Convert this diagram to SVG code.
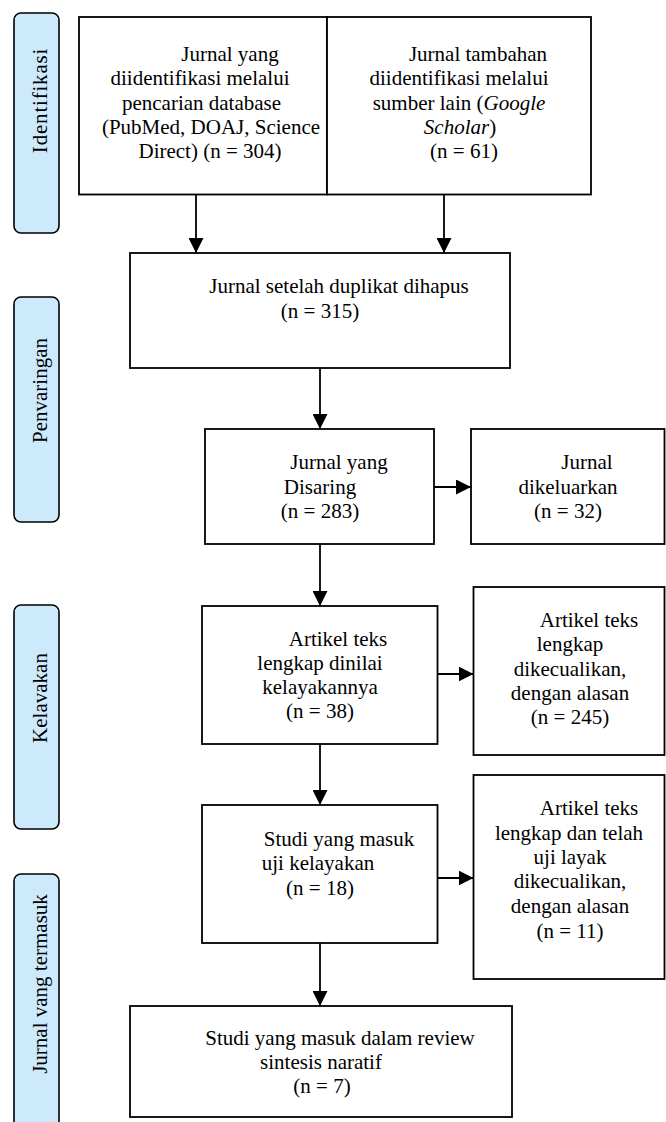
<svg xmlns="http://www.w3.org/2000/svg" width="666" height="1122" viewBox="0 0 666 1122">
<defs>
<style>
.box{fill:#ffffff;stroke:#000000;stroke-width:1.8}
.side{fill:#cdeafc;stroke:#000000;stroke-width:1.6}
.t{font-family:'Liberation Serif','Times New Roman',Times,serif;font-size:21px;fill:#000000;text-anchor:middle}
.conn{stroke:#000000;stroke-width:1.8;fill:none}
</style>
<marker id="ah" markerUnits="userSpaceOnUse" markerWidth="15" markerHeight="15" refX="15" refY="7.5" orient="auto" viewBox="0 0 15 15">
<path d="M0,0 L15,7.5 L0,15 z" fill="#000000"/>
</marker>
</defs>
<rect width="666" height="1122" fill="#ffffff"/>

<g id="side-identifikasi">
<rect class="side" x="14" y="13" width="45" height="220" rx="7"/>
<text class="t" font-family="Liberation Serif, serif" transform="translate(47,100.5) rotate(-90)" letter-spacing="0.8">Identifikasi</text>
</g>
<g id="side-penyaringan">
<rect class="side" x="14" y="297" width="45" height="225" rx="7"/>
<text class="t" font-family="Liberation Serif, serif" transform="translate(47,390.5) rotate(-90)">Penvaringan</text>
</g>
<g id="side-kelayakan">
<rect class="side" x="14" y="605" width="45" height="224" rx="7"/>
<text class="t" font-family="Liberation Serif, serif" transform="translate(47,698) rotate(-90)">Kelavakan</text>
</g>
<g id="side-termasuk">
<rect class="side" x="14" y="874" width="45" height="260" rx="7"/>
<text class="t" font-family="Liberation Serif, serif" transform="translate(47,984) rotate(-90)">Jurnal vang termasuk</text>
</g>

<g id="box-database" font-family="Liberation Serif, serif">
<rect class="box" x="79" y="17" width="248" height="177.5"/>
<text class="t" x="230" y="61">Jurnal yang</text>
<text class="t" x="200" y="85.3">diidentifikasi melalui</text>
<text class="t" x="201.5" y="110">pencarian database</text>
<text class="t" x="211" y="133.5">(PubMed, DOAJ, Science</text>
<text class="t" x="210" y="158.3">Direct) (n = 304)</text>
</g>

<g id="box-lain">
<rect class="box" x="327" y="17" width="264" height="177.5"/>
<text class="t" x="478" y="61">Jurnal tambahan</text>
<text class="t" x="459" y="85.3">diidentifikasi melalui</text>
<text class="t" x="459" y="110">sumber lain (<tspan font-style="italic">Google</tspan></text>
<text class="t" x="460" y="133.5"><tspan font-style="italic">Scholar</tspan>)</text>
<text class="t" x="464" y="158.3">(n = 61)</text>
</g>

<g id="box-duplikat">
<rect class="box" x="130" y="253" width="380" height="115"/>
<text class="t" x="339" y="293.3">Jurnal setelah duplikat dihapus</text>
<text class="t" x="320" y="318.3">(n = 315)</text>
</g>

<g id="box-disaring">
<rect class="box" x="205" y="429" width="229" height="115"/>
<text class="t" x="339" y="469.3">Jurnal yang</text>
<text class="t" x="320" y="494">Disaring</text>
<text class="t" x="320" y="518.3">(n = 283)</text>
</g>

<g id="box-dikeluarkan">
<rect class="box" x="471" y="429" width="193.5" height="115"/>
<text class="t" x="587" y="469.3">Jurnal</text>
<text class="t" x="568" y="494">dikeluarkan</text>
<text class="t" x="568" y="518.3">(n = 32)</text>
</g>

<g id="box-dinilai">
<rect class="box" x="202" y="606" width="235.5" height="138"/>
<text class="t" x="338" y="645.7">Artikel teks</text>
<text class="t" x="320" y="669.5">lengkap dinilai</text>
<text class="t" x="320" y="694">kelayakannya</text>
<text class="t" x="320" y="718.3">(n = 38)</text>
</g>

<g id="box-dikecualikan1">
<rect class="box" x="473.5" y="587" width="191" height="168"/>
<text class="t" x="589" y="626.7">Artikel teks</text>
<text class="t" x="570" y="650.7">lengkap</text>
<text class="t" x="570" y="675.7">dikecualikan,</text>
<text class="t" x="570" y="699.5">dengan alasan</text>
<text class="t" x="570" y="724">(n = 245)</text>
</g>

<g id="box-uji">
<rect class="box" x="202" y="805" width="235.5" height="138"/>
<text class="t" x="339" y="846">Studi yang masuk</text>
<text class="t" x="318" y="870">uji kelayakan</text>
<text class="t" x="320" y="895">(n = 18)</text>
</g>

<g id="box-dikecualikan2">
<rect class="box" x="473.5" y="775" width="191" height="204"/>
<text class="t" x="589" y="815">Artikel teks</text>
<text class="t" x="569" y="840">lengkap dan telah</text>
<text class="t" x="570" y="864">uji layak</text>
<text class="t" x="570" y="888.3">dikecualikan,</text>
<text class="t" x="570" y="913.3">dengan alasan</text>
<text class="t" x="570" y="938.3">(n = 11)</text>
</g>

<g id="box-review">
<rect class="box" x="130" y="1006" width="382" height="111"/>
<text class="t" x="340" y="1045">Studi yang masuk dalam review</text>
<text class="t" x="321" y="1069">sintesis naratif</text>
<text class="t" x="322" y="1093">(n = 7)</text>
</g>

<g id="connectors">
<line class="conn" x1="196" y1="194.5" x2="196" y2="253" marker-end="url(#ah)"/>
<line class="conn" x1="444" y1="194.5" x2="444" y2="253" marker-end="url(#ah)"/>
<line class="conn" x1="320" y1="368" x2="320" y2="429" marker-end="url(#ah)"/>
<line class="conn" x1="434" y1="487" x2="471" y2="487" marker-end="url(#ah)"/>
<line class="conn" x1="320" y1="544" x2="320" y2="606" marker-end="url(#ah)"/>
<line class="conn" x1="437.5" y1="674" x2="473.5" y2="674" marker-end="url(#ah)"/>
<line class="conn" x1="320" y1="744" x2="320" y2="805" marker-end="url(#ah)"/>
<line class="conn" x1="437.5" y1="878" x2="473.5" y2="878" marker-end="url(#ah)"/>
<line class="conn" x1="320" y1="943" x2="320" y2="1006" marker-end="url(#ah)"/>
</g>
</svg>
